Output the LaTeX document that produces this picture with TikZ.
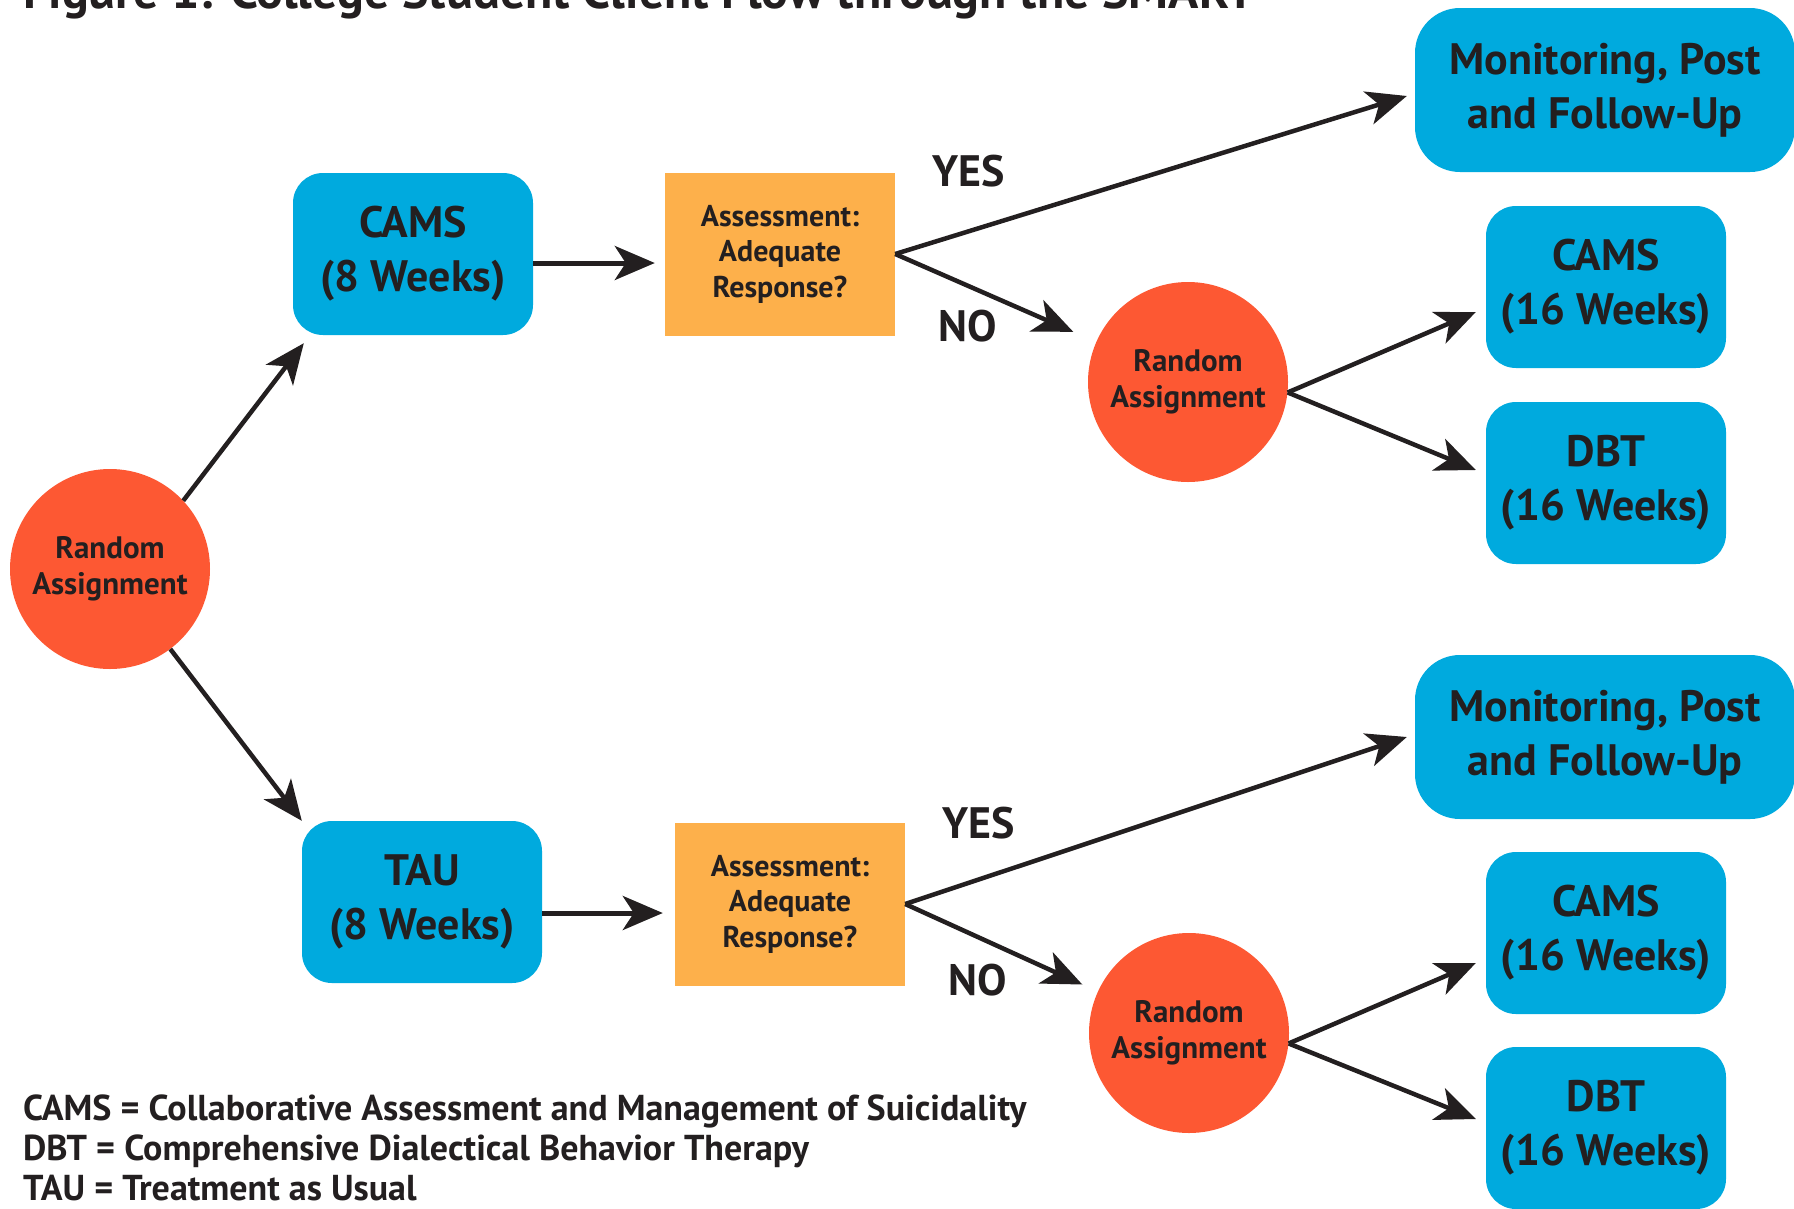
\documentclass[tikz,border=0pt]{standalone}
\usepackage{fontspec}
\setmainfont{PT Sans}
\usetikzlibrary{arrows.meta,calc}
\definecolor{boxblue}{RGB}{0,170,222}
\definecolor{circred}{RGB}{253,88,51}
\definecolor{assessorange}{RGB}{253,176,75}
\definecolor{ink}{RGB}{35,31,32}
\begin{document}
\begin{tikzpicture}[x=1pt,y=-1pt,
  tbox/.style={fill=boxblue, rounded corners=30pt, minimum width=240pt, minimum height=162pt, align=center, font=\fontsize{44}{54}\selectfont\bfseries, text=ink, inner sep=0pt},
  mbox/.style={tbox, rounded corners=45pt, minimum width=380pt, minimum height=164pt},
  abox/.style={fill=assessorange, minimum width=230pt, minimum height=163pt, align=center, font=\fontsize{30}{35.5}\selectfont\bfseries, text=ink, inner sep=0pt},
  rcirc/.style={circle, fill=circred, minimum size=200pt, inner sep=0pt, align=center, font=\fontsize{31}{36}\selectfont\bfseries, text=ink},
  arr/.style={draw=ink, line width=4.5pt, -{Stealth[length=40pt,width=34pt,inset=11pt]}},
  lab/.style={font=\fontsize{44}{44}\selectfont\bfseries, text=ink, inner sep=0pt},
  legend/.style={anchor=base west, font=\fontsize{36}{40}\selectfont\bfseries, text=ink, inner sep=0pt}
]
\clip (0,0) rectangle (1794,1208);
\fill[white] (0,0) rectangle (1794,1208);

\node[anchor=base west, font=\fontsize{50}{50}\selectfont\bfseries, text=ink, inner sep=0pt] (title) at (23,8) {Figure 1: College Student Client Flow through the SMART};

% nodes
\node[rcirc] (ra1) at (110,569) {Random\\Assignment};
\node[tbox] (c8) at (413,254) {CAMS\\(8 Weeks)};
\node[abox] (as1) at (780,254) {Assessment:\\Adequate\\Response?};
\node[rcirc] (ra2) at (1188,382) {Random\\Assignment};
\node[mbox] (mon1) at (1605,90) {Monitoring, Post\\and Follow-Up};
\node[tbox] (c16a) at (1606,287) {CAMS\\(16 Weeks)};
\node[tbox] (dbta) at (1606,483) {DBT\\(16 Weeks)};

\node[tbox] (tau) at (422,902) {TAU\\(8 Weeks)};
\node[abox] (as2) at (790,904) {Assessment:\\Adequate\\Response?};
\node[rcirc] (ra3) at (1189,1033) {Random\\Assignment};
\node[mbox] (mon2) at (1605,737) {Monitoring, Post\\and Follow-Up};
\node[tbox] (c16b) at (1606,933) {CAMS\\(16 Weeks)};
\node[tbox] (dbtb) at (1606,1128) {DBT\\(16 Weeks)};

% labels
\node[lab] (yes1) at (969,171) {YES};
\node[lab] (no1) at (968,326) {NO};
\node[lab] (yes2) at (979,823) {YES};
\node[lab] (no2) at (978,980) {NO};

% arrows
\draw[arr] (ra1.43) -- ([xshift=11pt,yshift=-8pt]c8.south west);
\draw[arr] (ra1.-53) -- (tau.north west);
\draw[arr, line width=5pt] ([yshift=-9pt]c8.east) -- ([xshift=-10pt,yshift=-9pt]as1.west);
\draw[arr] (as1.east) -- ([xshift=-8pt,yshift=-6pt]mon1.west);
\draw[arr, shorten >=25pt] (as1.east) -- (ra2);
\draw[arr] (ra2.-6) -- ([xshift=-10pt,yshift=-25pt]c16a.west);
\draw[arr] (ra2.-6) -- ([xshift=-10pt,yshift=13pt]dbta.west);

\draw[arr, line width=5pt] ([yshift=-11pt]tau.east) -- ([xshift=-12pt,yshift=-9pt]as2.west);
\draw[arr] (as2.east) -- ([xshift=-8pt]mon2.west);
\draw[arr, shorten >=17pt] (as2.east) -- (ra3);
\draw[arr] (ra3.-6) -- ([xshift=-10pt,yshift=-30pt]c16b.west);
\draw[arr] (ra3.-6) -- ([xshift=-10pt,yshift=9pt]dbtb.west);

% legend
\node[legend] (l1) at (23,1120) {CAMS = Collaborative Assessment and Management of Suicidality};
\node[legend] (l2) at (23,1160) {DBT = Comprehensive Dialectical Behavior Therapy};
\node[legend] (l3) at (23,1200) {TAU = Treatment as Usual};
\end{tikzpicture}
\end{document}
